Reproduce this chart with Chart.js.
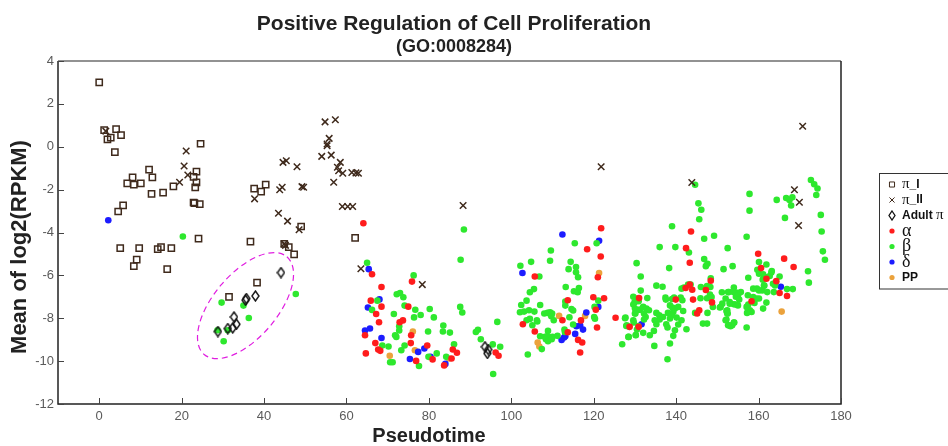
<!DOCTYPE html>
<html>
<head>
<meta charset="utf-8">
<script src="https://cdn.jsdelivr.net/npm/chart.js@4.4.1/dist/chart.umd.min.js"></script>
<style>
  html, body { margin: 0; padding: 0; background: #fff; }
  #chart { display: block; }
</style>
</head>
<body>
<canvas id="chart" width="948" height="446"></canvas>
<script>
// axis ticks
const xTicks = [0, 20, 40, 60, 80, 100, 120, 140, 160, 180];
const yTicks = [-12, -10, -8, -6, -4, -2, 0, 2, 4];

// series values, [pseudotime, mean log2(RPKM)]
const piI = [
  [0, 3.0], [1.2, 0.78], [4.1, 0.82], [2.0, 0.34], [2.8, 0.43], [5.3, 0.54], [3.8, -0.25],
  [12.1, -1.07], [12.9, -1.43], [8.1, -1.43], [6.8, -1.71], [8.4, -1.77], [10.1, -1.71],
  [12.7, -2.2], [15.5, -2.14], [18.0, -1.85], [24.6, 0.14], [23.6, -1.16], [22.9, -1.41],
  [23.6, -1.66], [23.3, -1.89], [22.9, -2.6], [23.1, -2.63], [24.4, -2.68], [5.8, -2.73],
  [4.6, -3.02], [24.1, -4.29], [36.7, -4.43], [37.6, -1.95], [39.3, -2.09], [40.4, -1.77],
  [5.1, -4.73], [9.7, -4.73], [14.2, -4.78], [15.0, -4.68], [17.5, -4.73], [9.1, -5.27],
  [8.4, -5.57], [16.5, -5.71], [44.9, -4.53], [46.0, -4.68], [47.3, -5.02], [49.0, -3.72],
  [62.1, -4.25], [38.3, -6.34], [31.5, -7.0]
];
const piII = [
  [1.6, 0.73], [21.1, -0.2], [20.6, -0.9], [21.5, -1.32], [19.5, -1.66], [37.7, -2.43],
  [43.8, -2.01], [44.4, -1.89], [43.5, -3.1], [45.7, -3.47], [48.5, -3.87], [44.6, -0.73],
  [45.4, -0.65], [48.0, -0.93], [49.2, -1.86], [49.6, -1.89], [54.0, -0.45], [55.3, 0.05],
  [56.3, -0.39], [58.5, -0.73], [57.8, -0.96], [58.1, -1.12], [59.1, -1.24], [61.3, -1.2],
  [62.3, -1.22], [62.9, -1.24], [56.9, -1.66], [59.0, -2.79], [60.3, -2.79], [61.5, -2.79],
  [44.9, -4.53], [45.2, -4.6], [63.5, -5.69], [54.8, 1.16], [57.3, 1.26], [55.8, 0.39],
  [55.3, 0.13], [88.3, -2.74], [78.4, -6.43], [121.8, -0.93], [143.8, -1.67], [170.7, 0.96],
  [168.7, -2.01], [169.9, -2.59], [169.7, -3.67]
];
const adultPi = [
  [44.1, -5.87], [37.9, -6.96], [35.7, -7.08], [35.5, -7.16], [32.7, -7.94], [33.3, -8.28],
  [32.4, -8.45], [31.2, -8.48], [28.8, -8.62], [93.6, -9.33], [94.4, -9.46], [94.2, -9.64]
];
const alpha = [
  [64.1, -3.57], [66.2, -5.95], [68.5, -6.54], [75.9, -6.29], [65.9, -7.18], [68.5, -7.46],
  [75.0, -7.46], [67.2, -7.8], [67.9, -8.19], [72.9, -8.19], [73.7, -8.1], [64.5, -8.79],
  [75.7, -8.79], [67.0, -9.16], [75.6, -9.16], [79.6, -9.27], [67.7, -9.46], [68.2, -9.52],
  [85.8, -9.46], [86.8, -9.61], [64.7, -9.64], [80.9, -9.92], [85.5, -9.88], [76.9, -9.99],
  [83.7, -10.2], [96.2, -9.6], [96.9, -9.75], [118.4, -4.78], [121.7, -5.12], [105.7, -6.05],
  [121.0, -6.09], [113.7, -7.16], [119.9, -7.02], [122.5, -7.07], [120.5, -7.6], [116.9, -8.1],
  [112.4, -8.09], [102.8, -8.28], [120.8, -8.43], [105.7, -8.62], [113.7, -8.65], [116.2, -9.01],
  [117.2, -9.13], [116.7, -9.6], [125.3, -7.98], [128.7, -8.4], [130.9, -8.4], [121.8, -3.8],
  [143.6, -3.95], [142.4, -4.73], [143.3, -5.41], [148.4, -6.25], [142.3, -6.59], [143.3, -6.43],
  [143.9, -6.67], [147.2, -6.68], [131.0, -7.06], [139.9, -7.13], [144.1, -7.13], [148.7, -7.26],
  [145.6, -7.63], [145.1, -7.78], [159.9, -4.99], [166.2, -5.22], [168.5, -5.61], [160.6, -5.66],
  [161.9, -6.16], [164.3, -6.27], [165.1, -6.82], [166.9, -6.96], [158.3, -7.21]
];
const beta = [
  [20.3, -4.19], [47.7, -6.87], [29.7, -7.27], [35.0, -7.41], [36.3, -7.99], [28.7, -8.56],
  [31.2, -8.56], [30.2, -9.07], [65.0, -5.41],
  [76.3, -6.0], [72.2, -6.88], [73.0, -6.82], [73.8, -7.02], [67.5, -7.18], [74.1, -7.41],
  [66.2, -7.61], [76.7, -7.6], [80.2, -7.57], [71.5, -7.8], [76.4, -7.96], [78.0, -7.85],
  [81.2, -7.96], [72.8, -8.37], [72.8, -8.57], [79.8, -8.62], [83.4, -8.62], [85.1, -8.67],
  [71.8, -8.79], [72.1, -8.87], [83.5, -8.34], [68.7, -9.27], [70.2, -9.32], [74.1, -9.27],
  [86.1, -9.21], [73.3, -9.49], [81.9, -9.64], [79.9, -9.8], [84.2, -9.8], [70.6, -10.05],
  [71.2, -10.05], [77.6, -10.23], [95.6, -10.6], [88.5, -3.86], [87.7, -5.27], [87.6, -7.47],
  [88.1, -7.73], [91.4, -8.64], [91.9, -8.54], [92.6, -8.98], [96.6, -8.17], [97.3, -9.33],
  [95.5, -9.22],
  [115.4, -4.5], [120.7, -4.5], [109.6, -4.84], [104.8, -5.37], [102.2, -5.55], [109.4, -5.32],
  [106.8, -6.05], [114.4, -5.37], [115.7, -5.61], [113.9, -5.71], [115.7, -5.86], [116.2, -6.09],
  [130.4, -5.43], [113.2, -6.54], [115.2, -6.74], [116.4, -6.59], [116.1, -6.79], [104.5, -6.79],
  [105.5, -6.64], [103.7, -7.18], [102.4, -7.38], [107.0, -7.38], [113.1, -7.22], [113.1, -7.41],
  [121.1, -7.18], [114.6, -7.57], [115.0, -7.64], [120.2, -7.47], [102.1, -7.72], [103.1, -7.69],
  [104.3, -7.63], [105.6, -7.69], [108.0, -7.78], [108.8, -7.75], [109.4, -7.72], [109.9, -7.78],
  [109.7, -7.91], [114.1, -7.95], [120.3, -8.02], [120.1, -7.94], [104.5, -8.03], [103.7, -8.09],
  [106.2, -8.09], [106.3, -8.15], [110.3, -8.09], [105.1, -8.33], [115.0, -8.29], [112.9, -8.53],
  [108.9, -8.59], [113.0, -8.64], [107.0, -8.84], [108.2, -8.87], [108.7, -8.84], [109.4, -8.9],
  [110.0, -8.87], [111.2, -8.82], [108.4, -8.98], [108.9, -9.07], [109.8, -8.98], [107.4, -9.44],
  [104.0, -9.69], [127.6, -8.0], [128.0, -8.33], [128.4, -8.87], [126.9, -9.21], [130.2, -8.78],
  [129.6, -7.0], [129.9, -7.26], [130.5, -7.08], [130.9, -7.21], [131.0, -7.6], [130.1, -7.78],
  [129.6, -8.09], [129.7, -8.2], [128.6, -8.4], [130.5, -8.53],
  [144.6, -1.77], [145.4, -2.64], [146.1, -2.94], [145.6, -3.38], [139.0, -3.71], [149.2, -4.15],
  [146.8, -4.29], [152.5, -4.73], [136.0, -4.68], [139.8, -4.68], [143.1, -4.93], [146.8, -5.24],
  [147.6, -5.46], [147.2, -5.57], [153.7, -5.57], [151.5, -5.71], [138.3, -5.66], [131.4, -6.05],
  [148.4, -6.14], [135.2, -6.48], [136.7, -6.53], [141.3, -6.62], [141.9, -6.57], [142.9, -6.43],
  [143.5, -6.43], [146.0, -6.54], [147.5, -6.5], [148.3, -6.54], [151.1, -6.79], [152.6, -6.78],
  [154.0, -6.57], [154.6, -6.8], [131.4, -6.71], [133.0, -7.06], [137.4, -7.04], [137.5, -7.13],
  [139.0, -7.1], [139.5, -7.04], [141.1, -7.04], [141.5, -7.16], [145.9, -7.07], [147.5, -7.07],
  [148.2, -6.9], [148.6, -7.01], [148.9, -7.47], [150.8, -7.47], [151.2, -7.32], [152.0, -7.08],
  [153.0, -7.24], [154.0, -7.35], [155.0, -7.4], [154.5, -7.0], [129.6, -7.36], [130.0, -7.55],
  [131.2, -7.6], [130.0, -7.78], [132.0, -7.47], [132.8, -7.55], [133.4, -7.63], [132.2, -7.78],
  [132.6, -7.94], [132.2, -8.06], [135.2, -7.75], [135.9, -7.86], [136.8, -7.94], [136.0, -8.06],
  [138.5, -7.4], [139.1, -7.5], [139.7, -7.55], [139.3, -7.71], [140.5, -7.47], [141.7, -7.66],
  [138.0, -7.75], [138.9, -7.86], [138.5, -8.01], [140.1, -7.97], [141.3, -8.09], [144.6, -7.75],
  [147.6, -7.75], [146.5, -8.25], [147.5, -8.25], [150.6, -7.5], [152.2, -7.66], [152.5, -7.78],
  [152.2, -8.06], [154.0, -8.2], [152.6, -8.33], [153.2, -8.37], [130.8, -8.36], [132.0, -8.68],
  [134.8, -8.09], [135.2, -8.28], [137.6, -8.28], [137.9, -8.43], [140.5, -8.29], [139.7, -8.56],
  [142.5, -8.51], [127.7, -7.97], [128.5, -8.87], [130.2, -8.79], [133.6, -8.79], [134.6, -8.59],
  [134.7, -9.29], [138.5, -9.18], [139.3, -8.82], [137.9, -9.91], [127.9, -8.36],
  [172.7, -1.55], [173.5, -1.75], [174.3, -1.95], [174.0, -2.25], [157.8, -2.2], [164.4, -2.48],
  [166.7, -2.39], [167.5, -2.48], [168.2, -2.36], [167.9, -2.74], [157.8, -2.98], [166.4, -3.32],
  [175.1, -3.18], [175.3, -3.95], [157.1, -4.2], [175.6, -4.88], [176.1, -5.27], [160.1, -5.38],
  [159.7, -5.74], [161.9, -5.49], [160.1, -5.92], [161.1, -5.95], [161.7, -6.08], [162.7, -6.03],
  [163.1, -5.87], [163.2, -5.8], [157.5, -6.11], [165.1, -6.05], [172.0, -5.81], [172.2, -6.34],
  [161.0, -6.2], [161.4, -6.47], [163.5, -6.39], [164.0, -6.47], [164.2, -6.31], [166.9, -6.64],
  [168.3, -6.64], [152.8, -6.78], [153.9, -6.78], [155.0, -6.93], [155.7, -6.78], [155.3, -7.13],
  [157.4, -6.93], [158.7, -6.62], [159.6, -6.62], [160.1, -6.7], [160.9, -6.7], [161.3, -6.48],
  [162.1, -6.78], [163.7, -6.78], [158.7, -7.01], [159.5, -7.08], [160.1, -7.08], [159.0, -7.29],
  [157.5, -7.36], [157.9, -7.63], [158.3, -7.71], [157.2, -7.75], [157.1, -7.47], [161.1, -7.55],
  [161.9, -7.27], [153.0, -7.32], [154.4, -7.36], [152.4, -7.63], [152.4, -7.78], [152.0, -8.09],
  [152.8, -8.33], [153.6, -8.33], [154.1, -8.2], [157.1, -8.43]
];
const delta = [
  [2.2, -3.43], [65.4, -5.71], [68.0, -7.12], [65.2, -7.5], [64.5, -8.57], [65.7, -8.48],
  [68.5, -8.92], [77.4, -9.57], [78.9, -9.41], [80.4, -9.8], [75.4, -9.9], [84.0, -10.13],
  [112.4, -4.09], [121.3, -4.39], [102.7, -5.89], [121.1, -7.47], [118.2, -7.73], [115.8, -8.37],
  [116.7, -8.34], [117.4, -8.53], [112.8, -8.9], [113.1, -8.84], [115.5, -8.73], [112.2, -9.01],
  [131.6, -8.28], [165.4, -6.53]
];
const pp = [
  [76.1, -8.62], [76.6, -9.49], [70.5, -9.75], [84.9, -9.88], [121.3, -5.89], [111.6, -7.89],
  [117.9, -7.89], [106.4, -9.13], [106.8, -9.32], [165.6, -7.69]
];

// dashed ring around the adult cells: centre in data units
const ringCentre = [35.5, -7.41];

const toPoints = arr => arr.map(p => ({ x: p[0], y: p[1] }));

// tall open diamond used for the adult cells
function makeDiamond(w, h, lw) {
  const c = document.createElement('canvas');
  c.width = w + 2;
  c.height = h + 2;
  const g = c.getContext('2d');
  g.strokeStyle = '#111';
  g.lineWidth = lw;
  g.beginPath();
  g.moveTo(c.width / 2, 1);
  g.lineTo(c.width - 1, c.height / 2);
  g.lineTo(c.width / 2, c.height - 1);
  g.lineTo(1, c.height / 2);
  g.closePath();
  g.stroke();
  return c;
}
const diamond = makeDiamond(7, 10, 1.4);
const diamondSmall = makeDiamond(6, 9, 1.3);

const brown = '#3f2a1c';
const sans = '"Liberation Sans", Arial, sans-serif';

const frameAndDecor = {
  id: 'frameAndDecor',
  beforeDatasetsDraw(chart) {
    const { ctx, scales: { x, y } } = chart;
    // dashed ellipse
    const cx = x.getPixelForValue(ringCentre[0]);
    const cy = y.getPixelForValue(ringCentre[1]);
    ctx.save();
    ctx.strokeStyle = '#e01ee0';
    ctx.lineWidth = 1.2;
    ctx.setLineDash([6, 4]);
    ctx.beginPath();
    ctx.ellipse(cx, cy, 64, 32, -0.868, 0, Math.PI * 2);
    ctx.stroke();
    ctx.restore();
  },
  afterDraw(chart) {
    const { ctx, chartArea: a, scales: { x, y } } = chart;
    ctx.save();
    // frame
    ctx.strokeStyle = '#6e6e6e';
    ctx.lineWidth = 1.5;
    ctx.beginPath();
    ctx.moveTo(a.left, a.top);
    ctx.lineTo(a.right, a.top);
    ctx.stroke();
    ctx.strokeStyle = '#222';
    ctx.beginPath();
    ctx.moveTo(a.right, a.top);
    ctx.lineTo(a.right, a.bottom);
    ctx.lineTo(a.left, a.bottom);
    ctx.lineTo(a.left, a.top);
    ctx.stroke();
    // inward ticks
    ctx.lineWidth = 1;
    ctx.strokeStyle = '#444';
    ctx.beginPath();
    xTicks.forEach(v => {
      const px = Math.round(x.getPixelForValue(v)) + 0.5;
      ctx.moveTo(px, a.bottom);
      ctx.lineTo(px, a.bottom - 6);
    });
    yTicks.forEach(v => {
      const py = Math.round(y.getPixelForValue(v)) + 0.5;
      ctx.moveTo(a.left, py);
      ctx.lineTo(a.left + 6, py);
    });
    ctx.stroke();

    // titles
    ctx.fillStyle = '#222';
    ctx.textAlign = 'center';
    ctx.textBaseline = 'alphabetic';
    ctx.font = 'bold 21px ' + sans;
    ctx.fillText('Positive Regulation of Cell Proliferation', 454, 30);
    ctx.font = 'bold 18px ' + sans;
    ctx.fillText('(GO:0008284)', 454, 52);

    // axis titles
    ctx.font = 'bold 20px ' + sans;
    ctx.fillText('Pseudotime', 429, 442);
    ctx.save();
    ctx.translate(26, 247);
    ctx.rotate(-Math.PI / 2);
    ctx.font = 'bold 22px ' + sans;
    ctx.fillText('Mean of log2(RPKM)', 0, 0);
    ctx.restore();

    // legend
    const lx = 879.5, ly = 173.5;
    ctx.strokeStyle = '#333';
    ctx.lineWidth = 1;
    ctx.strokeRect(lx, ly, 80, 115.5);
    chart.data.datasets.forEach((ds, i) => {
      const ry = 184.5 + i * 15.5;
      const mx = 892;
      ctx.save();
      if (ds.pointStyle === diamond) {
        ctx.drawImage(diamondSmall, mx - diamondSmall.width / 2, ry - diamondSmall.height / 2);
      } else {
        ctx.fillStyle = ds.backgroundColor;
        ctx.strokeStyle = ds.borderColor;
        Chart.helpers.drawPoint(ctx, {
          pointStyle: ds.pointStyle,
          radius: ds.pointStyle === 'circle' ? 2.6 : 3.6,
          rotation: 0,
          borderWidth: ds.borderWidth
        }, mx, ry);
      }
      ctx.restore();
      // label with greek letters in a serif face
      let tx = 902;
      ctx.textAlign = 'left';
      ctx.textBaseline = 'middle';
      ctx.fillStyle = '#111';
      for (const ch of ds.label.match(/[παβδ]|[^παβδ]+/g)) {
        if (/[παβδ]/.test(ch)) {
          ctx.font = (ch === 'π' ? '15px' : '18px') + ' "Liberation Serif", "Times New Roman", serif';
        } else {
          ctx.font = 'bold 12px ' + sans;
        }
        ctx.fillText(ch, tx, ry);
        tx += ctx.measureText(ch).width;
      }
    });
    ctx.restore();
  }
};

const dot = (label, data, color) => ({
  label, data: toPoints(data),
  pointStyle: 'circle', pointRadius: 3.3,
  backgroundColor: color, borderColor: color, borderWidth: 0
});

new Chart(document.getElementById('chart'), {
  type: 'scatter',
  data: {
    datasets: [
      { label: 'π_I', data: toPoints(piI), pointStyle: 'rect', pointRadius: 4.4,
        backgroundColor: 'rgba(0,0,0,0)', borderColor: brown, borderWidth: 1.5 },
      { label: 'π_II', data: toPoints(piII), pointStyle: 'crossRot', pointRadius: 4.6,
        backgroundColor: brown, borderColor: brown, borderWidth: 1.5 },
      { label: 'Adult π', data: toPoints(adultPi), pointStyle: diamond, pointRadius: 4,
        backgroundColor: 'rgba(0,0,0,0)', borderColor: '#111', borderWidth: 1.4 },
      dot('α', alpha, '#ff1c1c'),
      dot('β', beta, '#2ee82e'),
      dot('δ', delta, '#1c1cff'),
      dot('PP', pp, '#eba23c')
    ]
  },
  options: {
    responsive: false,
    devicePixelRatio: 1,
    animation: false,
    layout: { padding: { top: 61, right: 107, bottom: 0, left: 0 } },
    plugins: { legend: { display: false }, tooltip: { enabled: false } },
    scales: {
      x: {
        type: 'linear', min: -10, max: 180,
        grid: { display: false, drawTicks: false },
        border: { display: false },
        afterBuildTicks: s => { s.ticks = xTicks.map(v => ({ value: v })); },
        afterFit: s => { s.height = 42; },
        ticks: { color: '#5a5a5a', padding: 5, font: { family: sans, size: 13 } }
      },
      y: {
        type: 'linear', min: -12, max: 4,
        grid: { display: false, drawTicks: false },
        border: { display: false },
        afterBuildTicks: s => { s.ticks = yTicks.map(v => ({ value: v })); },
        afterFit: s => { s.width = 58; },
        ticks: { color: '#5a5a5a', padding: 4, font: { family: sans, size: 13 } }
      }
    }
  },
  plugins: [frameAndDecor]
});
</script>
</body>
</html>
